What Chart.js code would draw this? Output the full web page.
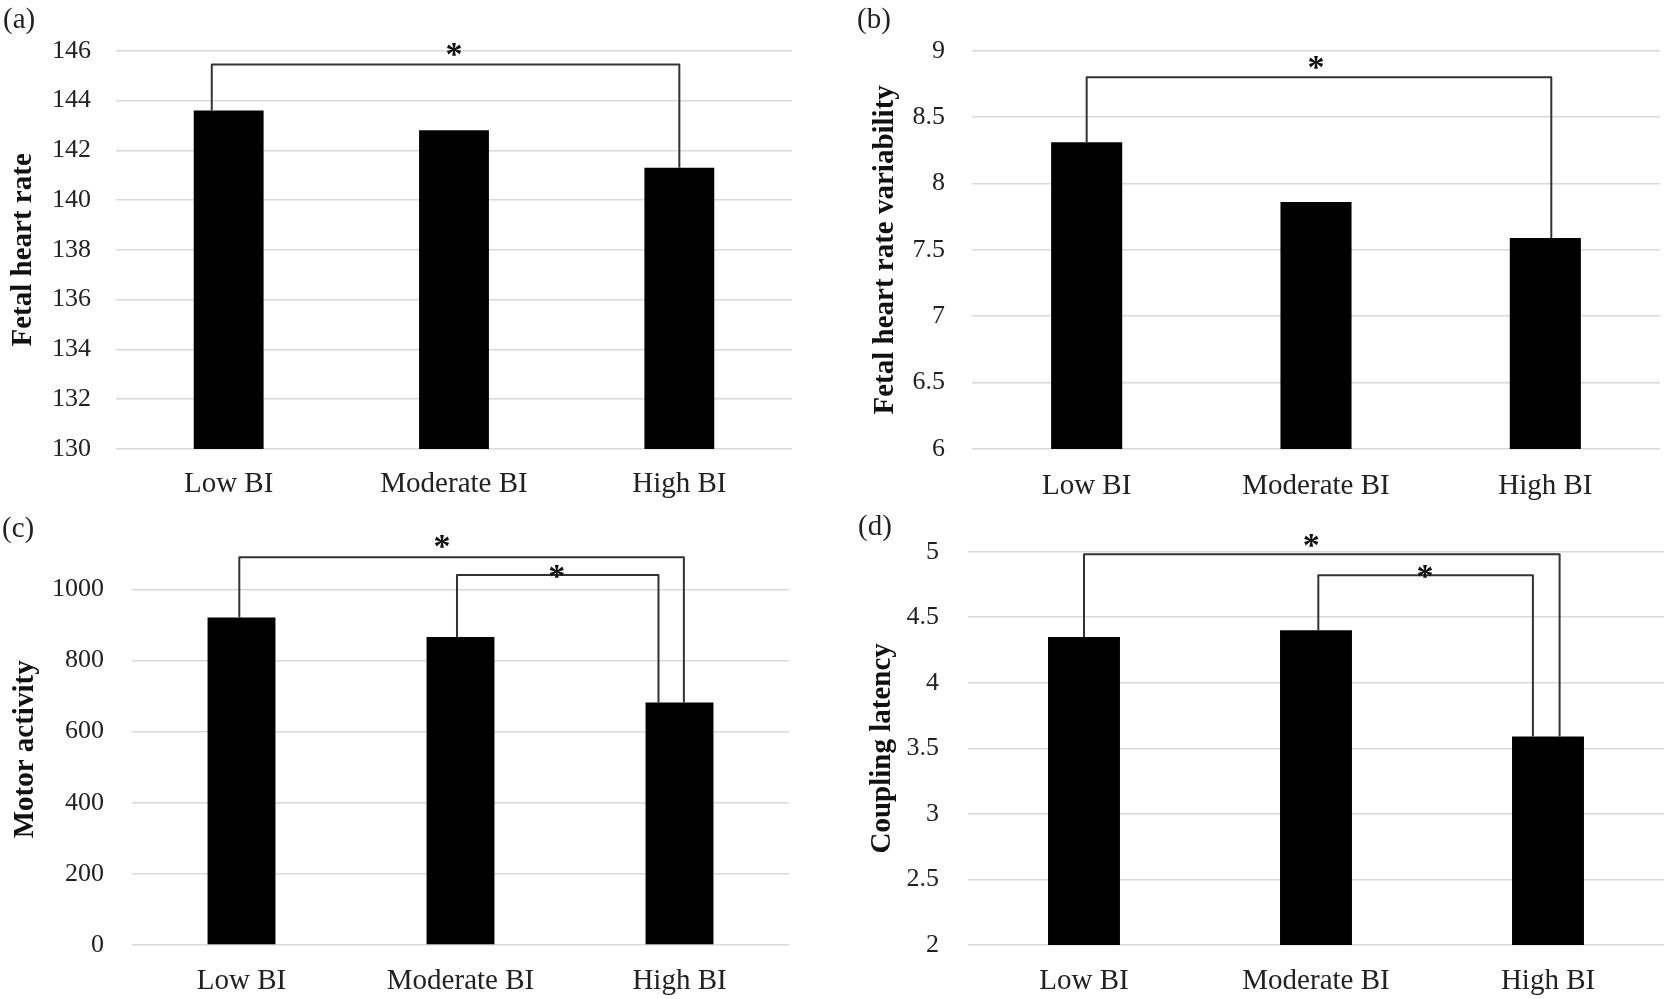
<!DOCTYPE html>
<html>
<head>
<meta charset="utf-8">
<script src="https://cdn.jsdelivr.net/npm/chart.js@4/dist/chart.umd.min.js"></script>
<style>
body { margin: 0; background: #fff; }
#wrap { position: relative; width: 1666px; height: 999px; overflow: hidden; }
#wrap canvas { position: absolute; }
.tag { position: absolute; font: 29px "Liberation Serif", serif; color: #222; line-height: 29px; }
</style>
</head>
<body>
<div id="wrap">
  <canvas id="chart-a" width="833" height="500" style="left:0;top:0"></canvas>
  <canvas id="chart-b" width="833" height="500" style="left:833px;top:0"></canvas>
  <canvas id="chart-c" width="833" height="499" style="left:0;top:500px"></canvas>
  <canvas id="chart-d" width="833" height="499" style="left:833px;top:500px"></canvas>
  <div class="tag" style="left:3px;top:4px">(a)</div>
  <div class="tag" style="left:857px;top:4px">(b)</div>
  <div class="tag" style="left:2px;top:513px">(c)</div>
  <div class="tag" style="left:858px;top:511px">(d)</div>
</div>
<script>
var groups = ['Low BI', 'Moderate BI', 'High BI'];

// values
var heartRate = [143.6, 142.8, 141.3];
var heartRateVar = [8.31, 7.86, 7.59];
var motorActivity = [921, 866, 682];
var couplingLatency = [4.35, 4.40, 3.59];

// y tick labels
var ticksA = [130, 132, 134, 136, 138, 140, 142, 144, 146];
var ticksB = [6, 6.5, 7, 7.5, 8, 8.5, 9];
var ticksC = [0, 200, 400, 600, 800, 1000];
var ticksD = [2, 2.5, 3, 3.5, 4, 4.5, 5];

// significance brackets: category from/to, level of the bar
var bracketsA = [{ from: 0, to: 2, dFrom: -0.075, dTo: 0, y: 145.45, starX: 1.0, starDy: 16 }];
var bracketsB = [{ from: 0, to: 2, dFrom: 0, dTo: 0.026, y: 8.8, starX: 1.0, starDy: 16 }];
var bracketsC = [
  { from: 0, to: 2, dFrom: -0.01, dTo: 0.02, y: 1090, starX: 0.915, starDy: 17 },
  { from: 1, to: 2, dFrom: -0.016, dTo: -0.096, y: 1040, starX: 1.44, starDy: 5 }
];
var bracketsD = [
  { from: 0, to: 2, dFrom: 0, dTo: 0.05, y: 4.98, starX: 0.98, starDy: 15 },
  { from: 1, to: 2, dFrom: 0.01, dTo: -0.065, y: 4.82, starX: 1.47, starDy: 5 }
];

var serif = '"Liberation Serif", "Times New Roman", serif';

var bracketPlugin = {
  id: 'brackets',
  afterDatasetsDraw: function (chart, args, opts) {
    var ctx = chart.ctx;
    var xs = chart.scales.x;
    var ys = chart.scales.y;
    var vals = chart.data.datasets[0].data;
    ctx.save();
    ctx.strokeStyle = '#333';
    ctx.lineWidth = 2;
    ctx.lineJoin = 'round';
    (opts.items || []).forEach(function (b) {
      var x1 = xs.getPixelForValue(b.from + b.dFrom);
      var x2 = xs.getPixelForValue(b.to + b.dTo);
      var yt = ys.getPixelForValue(b.y);
      ctx.beginPath();
      ctx.moveTo(x1, ys.getPixelForValue(vals[b.from]));
      ctx.lineTo(x1, yt);
      ctx.lineTo(x2, yt);
      ctx.lineTo(x2, ys.getPixelForValue(vals[b.to]));
      ctx.stroke();
      ctx.fillStyle = '#111';
      ctx.font = 'bold 34px ' + serif;
      ctx.textAlign = 'center';
      ctx.textBaseline = 'alphabetic';
      ctx.fillText('*', xs.getPixelForValue(b.starX), yt - b.starDy + 17);
    });
    ctx.restore();
  }
};

function makeChart(id, values, yTicks, yMin, yMax, title, brackets, box) {
  var ctx = document.getElementById(id).getContext('2d');
  return new Chart(ctx, {
    type: 'bar',
    data: {
      labels: groups,
      datasets: [{
        data: values,
        backgroundColor: '#000',
        borderWidth: 0,
        barPercentage: 0.31,
        categoryPercentage: 1
      }]
    },
    options: {
      responsive: false,
      animation: false,
      devicePixelRatio: 1,
      layout: { padding: { left: 0, top: box.top, right: box.right, bottom: 0 } },
      plugins: {
        legend: { display: false },
        tooltip: { enabled: false },
        brackets: { items: brackets }
      },
      scales: {
        x: {
          grid: { display: false },
          border: { display: false },
          ticks: {
            color: '#222',
            font: { family: serif, size: 29 },
            padding: box.xPad,
            maxRotation: 0,
            autoSkip: false
          },
          afterFit: function (s) { s.height = box.xh; }
        },
        y: {
          min: yMin,
          max: yMax,
          border: { display: false },
          grid: { color: '#d9d9d9', lineWidth: 1.5, drawTicks: false },
          ticks: {
            color: '#222',
            font: { family: serif, size: 26 },
            padding: box.tickPad,
            callback: function (v) { return String(v); }
          },
          afterBuildTicks: function (s) {
            s.ticks = yTicks.map(function (v) { return { value: v }; });
          },
          title: {
            display: true,
            text: title,
            color: '#111',
            font: { family: serif, size: 29, weight: 'bold' },
            padding: { top: box.titlePad, bottom: 0 }
          },
          afterFit: function (s) { s.width = box.left; }
        }
      }
    },
    plugins: [bracketPlugin]
  });
}

makeChart('chart-a', heartRate, ticksA, 130, 146, 'Fetal heart rate', bracketsA,
  { left: 116, right: 41, top: 50.7, xh: 51, xPad: 10, tickPad: 25, titlePad: 6 });
makeChart('chart-b', heartRateVar, ticksB, 6, 9, 'Fetal heart rate variability', bracketsB,
  { left: 139, right: 6, top: 50.7, xh: 51, xPad: 12, tickPad: 27, titlePad: 35 });
makeChart('chart-c', motorActivity, ticksC, 0, 1100, 'Motor activity', bracketsC,
  { left: 132, right: 44, top: 53.7, xh: 54, xPad: 11, tickPad: 28, titlePad: 8 });
makeChart('chart-d', couplingLatency, ticksD, 2, 5, 'Coupling latency', bracketsD,
  { left: 135, right: 2, top: 51.7, xh: 54, xPad: 11, tickPad: 29, titlePad: 32 });
</script>
</body>
</html>
